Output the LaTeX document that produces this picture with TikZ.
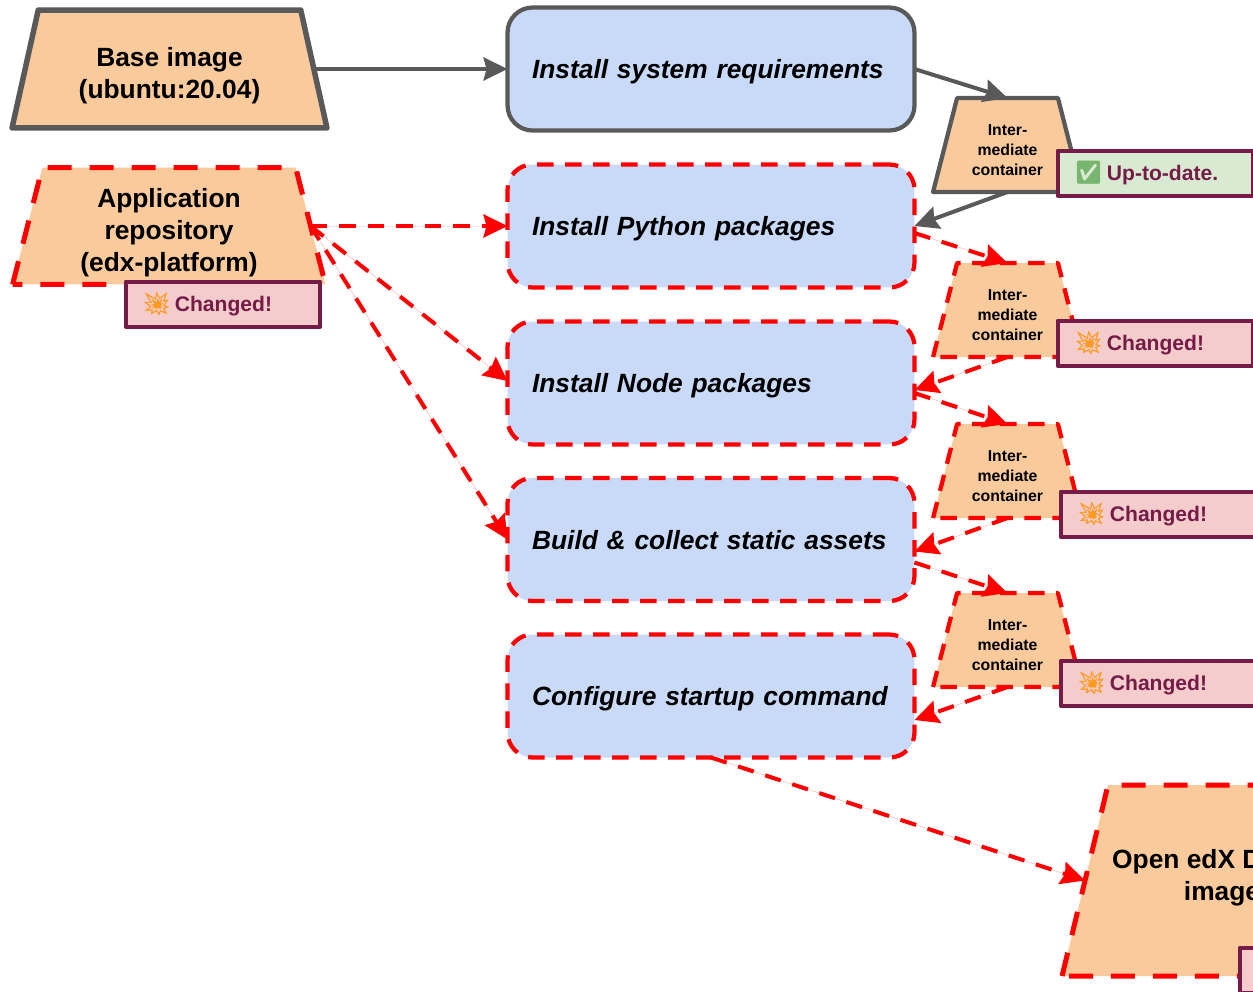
\documentclass[tikz,border=0pt]{standalone}
\usepackage{fontspec}
\setmainfont{Liberation Sans}
\newfontfamily\emojifont{Noto Emoji}
\usetikzlibrary{arrows.meta,shapes.geometric,calc}
\definecolor{orangefill}{HTML}{F9CB9C}
\definecolor{bluefill}{HTML}{C9DAF8}
\definecolor{pinkfill}{HTML}{F4CCCC}
\definecolor{greenfill}{HTML}{D9EAD3}
\definecolor{plumline}{HTML}{741B47}
\definecolor{grayline}{HTML}{595959}
\definecolor{redline}{HTML}{FF0000}
\definecolor{boomcolor}{HTML}{FF9A1F}
\definecolor{tickcolor}{HTML}{78B56E}
\newcommand{\boomicon}{{\emojifont\addfontfeature{FakeBold=1.5}\fontsize{13}{13}\selectfont\textcolor{boomcolor}{💥}}\hspace{2.2pt}}
\newcommand{\tickicon}{{\emojifont\fontsize{13}{13}\selectfont\textcolor{tickcolor}{✅}}\hspace{2.2pt}}
\tikzset{
	trapnode/.style={trapezium,trapezium stretches=true,trapezium left angle=#1,trapezium right angle=#1,fill=orangefill,outer sep=0pt,inner sep=3pt,align=center,line join=round},
	smalltrap/.style={trapnode=76.6,minimum width=2.98cm,minimum height=1.88cm},
	smalltext/.style={align=center,inner sep=0pt,font=\bfseries\fontsize{9}{11.35}\selectfont},
	bigtext/.style={align=center,inner sep=0pt,font=\bfseries\fontsize{15}{18.2}\selectfont},
	stepbox/.style={rectangle,rounded corners=0.5cm,fill=bluefill,minimum width=8.14cm,minimum height=2.46cm,outer sep=0pt,inner xsep=0pt,text width=7.16cm,text depth=0pt,align=left,font=\bfseries\itshape\fontsize{15}{18}\selectfont},
	badge/.style={rectangle,fill=#1,draw=plumline,line width=0.08cm,minimum width=3.9cm,minimum height=0.9cm,outer sep=0pt,inner xsep=0pt,text width=3.24cm,align=left,text=plumline,font=\bfseries\fontsize{12}{14}\selectfont},
	solidline/.style={draw=grayline,line width=0.085cm},
	dashline/.style={draw=redline,line width=0.085cm,dash pattern=on 0.33cm off 0.23cm},
	heavyline/.style={line width=0.11cm},
	heavydash/.style={draw=redline,line width=0.1cm,dash pattern=on 0.48cm off 0.36cm},
	solidarrow/.style={draw=grayline,fill=grayline,line width=0.08cm,-{Stealth[length=0.48cm,width=0.46cm,inset=0.06cm]}},
	dasharrow/.style={draw=redline,fill=redline,line width=0.08cm,dash pattern=on 0.33cm off 0.24cm,-{Stealth[length=0.48cm,width=0.46cm,inset=0.06cm]}}
}
\begin{document}
\begin{tikzpicture}[x=0.02cm,y=-0.02cm,line join=round]
	\clip (0,0) rectangle (1253,991);
	% source shapes
	\node[trapnode=84.3,solidline,heavyline,minimum width=6.3cm,minimum height=2.36cm] (base) at (169.5,69) {};
	\node[bigtext] (basetxt) at (169.5,76) {Base image\\(ubuntu:20.04)};
	\node[trapnode=83.3,heavydash,minimum width=6.26cm,minimum height=2.34cm] (repo) at (169,226) {};
	\node[bigtext] (repotxt) at (169,233) {Application\\repository\\(edx-platform)};
	% steps
	\node[stepbox,solidline] (system) at (711,69) {Install system requirements};
	\node[stepbox,dashline] (python) at (711,226) {Install Python packages};
	\node[stepbox,dashline] (nodepkg) at (711,383) {Install Node packages};
	\node[stepbox,dashline] (assets) at (711,539.5) {Build \& collect static assets};
	\node[stepbox,dashline] (startup) at (711,696) {Configure startup command};
	% intermediate containers
	\node[smalltrap,solidline] (interA) at (1007.5,145) {};
	\node[smalltrap,dashline] (interB) at (1007.5,310) {};
	\node[smalltrap,dashline] (interC) at (1007.5,471) {};
	\node[smalltrap,dashline] (interD) at (1007.5,640) {};
	\node[smalltext] (interAtxt) at (1007.5,150) {Inter-\\mediate\\container};
	\node[smalltext] (interBtxt) at (1007.5,315) {Inter-\\mediate\\container};
	\node[smalltext] (interCtxt) at (1007.5,476) {Inter-\\mediate\\container};
	\node[smalltext] (interDtxt) at (1007.5,645) {Inter-\\mediate\\container};
	% final image
	\node[trapnode=77.9,heavydash,minimum width=6.12cm,minimum height=3.82cm] (final) at (1215,880.5) {};
	\node[bigtext] (finaltxt) at (1222,878) {Open edX Docker\\image};
	% arrows
	\draw[solidarrow] (base.east) -- (system.west);
	\draw[solidarrow] (system.east) -- (interA.north);
	\draw[solidarrow] (interA.south) -- (python.east);
	\draw[dasharrow] (repo.east) -- (python.west);
	\draw[dasharrow] (repo.east) -- ($(nodepkg.west)+(0,-2)$);
	\draw[dasharrow] (repo.east) -- (assets.west);
	\draw[dasharrow] ($(python.east)+(0,7)$) -- (interB.north);
	\draw[dasharrow] (interB.south) -- ($(nodepkg.east)+(0,7)$);
	\draw[dasharrow] ($(nodepkg.east)+(0,10)$) -- (interC.north);
	\draw[dasharrow] (interC.south) -- ($(assets.east)+(0,12)$);
	\draw[dasharrow] ($(assets.east)+(0,23)$) -- (interD.north);
	\draw[dasharrow] (interD.south) -- ($(startup.east)+(0,24)$);
	\draw[dasharrow] (startup.south) -- (final.west);
	% badges
	\node[badge=pinkfill] (repobadge) at (223,304) {\boomicon Changed!};
	\node[badge=greenfill] (badgeA) at (1155,173) {\tickicon Up-to-date.};
	\node[badge=pinkfill] (badgeB) at (1155,343) {\boomicon Changed!};
	\node[badge=pinkfill] (badgeC) at (1158,514) {\boomicon Changed!};
	\node[badge=pinkfill] (badgeD) at (1158,683) {\boomicon Changed!};
	\node[badge=pinkfill] (finalbadge) at (1337,970) {};
\end{tikzpicture}
\end{document}
